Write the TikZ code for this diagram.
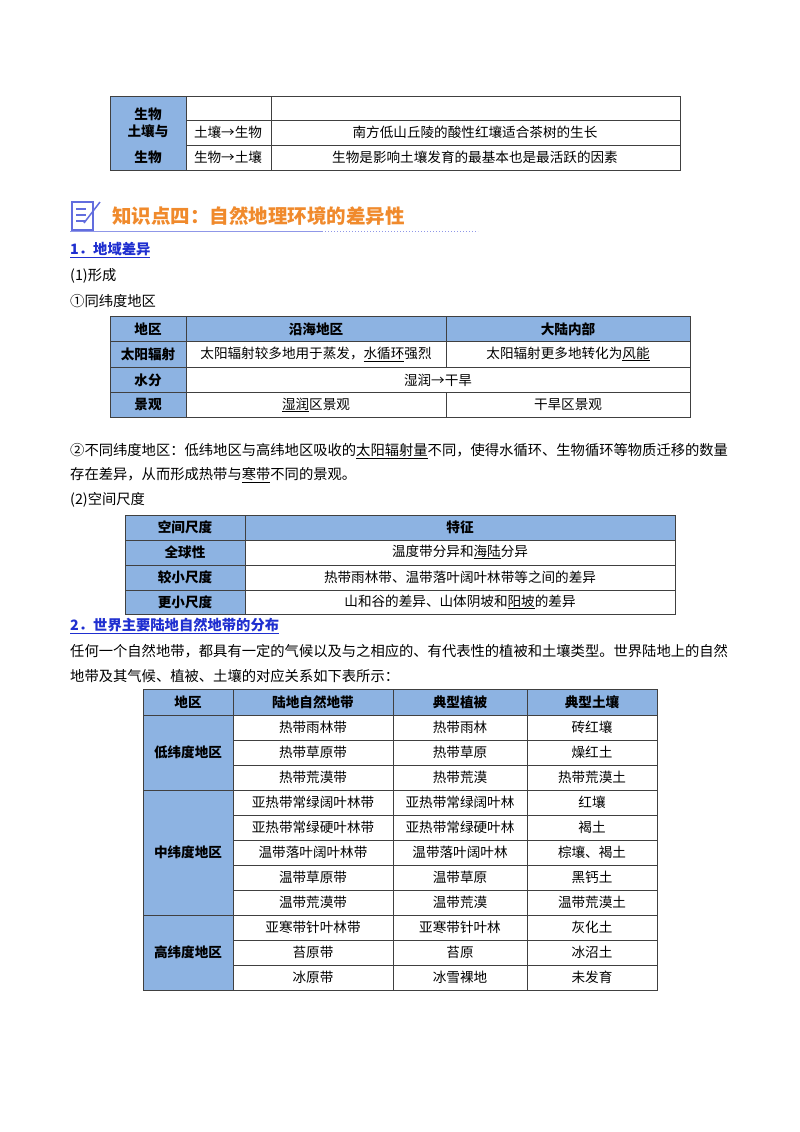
\documentclass[tikz,border=0pt]{standalone}
\usepackage{fontspec}
\setmainfont{Noto Sans CJK SC}
\definecolor{hb}{HTML}{8DB3E2}
\definecolor{ttl}{HTML}{F08A2C}
\definecolor{lnk}{HTML}{1F2FD0}
\begin{document}
\begin{tikzpicture}[x=1pt,y=-1pt,
  txt/.style={font=\fontsize{13.6}{15}\selectfont,inner sep=0},
  hd/.style={font=\fontsize{13.6}{15}\selectfont\bfseries,inner sep=0},
  lt/.style={font=\fontsize{14.3}{16}\selectfont,inner sep=0,anchor=west},
  grid/.style={draw=black!75,line width=0.8pt}]
\useasboundingbox (0,0) rectangle (800,1132);
\fill[white] (0,0) rectangle (800,1132);
% table 1
\fill[hb] (110,96) rectangle (186,170);
\draw[grid] (110,96) rectangle (680,170);
\draw[grid] (186,96)--(186,170) (271,96)--(271,170) (186,120)--(680,120) (186,145)--(680,145);
\node[hd] (t1a) at (148,114) {生物};
\node[hd] (t1b) at (148,131) {土壤与};
\node[hd] (t1c) at (148,157) {生物};
\node[txt] (t1d) at (228,132) {土壤→生物};
\node[txt] (t1e) at (228,157) {生物→土壤};
\node[txt] (t1f) at (475,132) {南方低山丘陵的酸性红壤适合茶树的生长};
\node[txt] (t1g) at (475,157) {生物是影响土壤发育的最基本也是最活跃的因素};
% header
\draw[lnk!70,line width=1.5pt] (72,202) rectangle (93,230);
\foreach \yy in {209,215,221} \draw[lnk!70,line width=1.2pt] (76,\yy)--(86,\yy);
\draw[lnk!70,line width=1.5pt] (84,223)--(100,202);
\node[font=\fontsize{19.5}{21}\selectfont\bfseries,text=ttl,inner sep=0,anchor=west] (ttl) at (112,216) {知识点四：自然地理环境的差异性};
\draw[lnk!50,line width=1pt] (70,231)--(322,231);
\draw[lnk!50,line width=1pt,dotted] (322,231)--(478,231);
\node[lt,font=\fontsize{14.3}{16}\selectfont\bfseries,text=lnk] (s1) at (70,250) {\underline{1．地域差异}};
\node[lt] (p1) at (70,276) {(1)形成};
\node[lt] (p2) at (70,301) {①同纬度地区};
% table 2
\fill[hb] (110,316) rectangle (690,341);
\fill[hb] (110,341) rectangle (186,417);
\draw[grid] (110,316) rectangle (690,417);
\draw[grid] (186,316)--(186,417) (446,316)--(446,367) (446,392)--(446,417);
\foreach \yy in {341,367,392} \draw[grid] (110,\yy)--(690,\yy);
\node[hd] (a1) at (148,329) {地区};
\node[hd] (a2) at (316,329) {沿海地区};
\node[hd] (a3) at (568,329) {大陆内部};
\node[hd] (a4) at (148,354) {太阳辐射};
\node[hd] (a5) at (148,380) {水分};
\node[hd] (a6) at (148,405) {景观};
\node[txt] (a7) at (316,354) {太阳辐射较多地用于蒸发，\underline{水循环}强烈};
\node[txt] (a8) at (568,354) {太阳辐射更多地转化为\underline{风能}};
\node[txt] (a9) at (438,380) {湿润→干旱};
\node[txt] (a10) at (316,405) {\underline{湿润}区景观};
\node[txt] (a11) at (568,405) {干旱区景观};
\node[lt] (p3) at (70,451) {②不同纬度地区：低纬地区与高纬地区吸收的\underline{太阳辐射量}不同，使得水循环、生物循环等物质迁移的数量};
\node[lt] (p4) at (70,475) {存在差异，从而形成热带与\underline{寒带}不同的景观。};
\node[lt] (p5) at (70,500) {(2)空间尺度};
% table 3
\fill[hb] (125,515) rectangle (675,540);
\fill[hb] (125,540) rectangle (245,614);
\draw[grid] (125,515) rectangle (675,614);
\draw[grid] (245,515)--(245,614);
\foreach \yy in {540,565,590} \draw[grid] (125,\yy)--(675,\yy);
\node[hd] (b1) at (185,527) {空间尺度};
\node[hd] (b2) at (460,527) {特征};
\node[hd] (b3) at (185,552) {全球性};
\node[hd] (b4) at (185,577) {较小尺度};
\node[hd] (b5) at (185,602) {更小尺度};
\node[txt] (b6) at (460,552) {温度带分异和\underline{海陆}分异};
\node[txt] (b7) at (460,577) {热带雨林带、温带落叶阔叶林带等之间的差异};
\node[txt] (b8) at (460,602) {山和谷的差异、山体阴坡和\underline{阳坡}的差异};
\node[lt,font=\fontsize{14.3}{16}\selectfont\bfseries,text=lnk] (s2) at (70,626) {\underline{2．世界主要陆地自然地带的分布}};
\node[lt] (p6) at (70,651) {任何一个自然地带，都具有一定的气候以及与之相应的、有代表性的植被和土壤类型。世界陆地上的自然};
\node[lt] (p7) at (70,676) {地带及其气候、植被、土壤的对应关系如下表所示：};
% table 4
\fill[hb] (143,689) rectangle (657,715);
\fill[hb] (143,715) rectangle (233,990);
\draw[grid] (143,689) rectangle (657,990);
\draw[grid] (233,689)--(233,990) (393,689)--(393,990) (527,689)--(527,990);
\draw[grid] (143,715)--(657,715) (143,790)--(657,790) (143,915)--(657,915);
\foreach \yy in {740,765,815,840,865,890,940,965} \draw[grid] (233,\yy)--(657,\yy);
\node[hd] (c0) at (188,702) {地区};
\node[hd] (c1) at (313,702) {陆地自然地带};
\node[hd] (c2) at (460,702) {典型植被};
\node[hd] (c3) at (592,702) {典型土壤};
\node[hd] (c4) at (188,752) {低纬度地区};
\node[hd] (c5) at (188,852) {中纬度地区};
\node[hd] (c6) at (188,952) {高纬度地区};
\foreach \i/\z/\v/\s in {0/热带雨林带/热带雨林/砖红壤,1/热带草原带/热带草原/燥红土,2/热带荒漠带/热带荒漠/热带荒漠土,3/亚热带常绿阔叶林带/亚热带常绿阔叶林/红壤,4/亚热带常绿硬叶林带/亚热带常绿硬叶林/褐土,5/温带落叶阔叶林带/温带落叶阔叶林/{棕壤、褐土},6/温带草原带/温带草原/黑钙土,7/温带荒漠带/温带荒漠/温带荒漠土,8/亚寒带针叶林带/亚寒带针叶林/灰化土,9/苔原带/苔原/冰沼土,10/冰原带/冰雪裸地/未发育}{
  \node[txt] (z\i) at (313,727+25*\i) {\z};
  \node[txt] (v\i) at (460,727+25*\i) {\v};
  \node[txt] (s\i) at (592,727+25*\i) {\s};
}
\end{tikzpicture}
\end{document}
